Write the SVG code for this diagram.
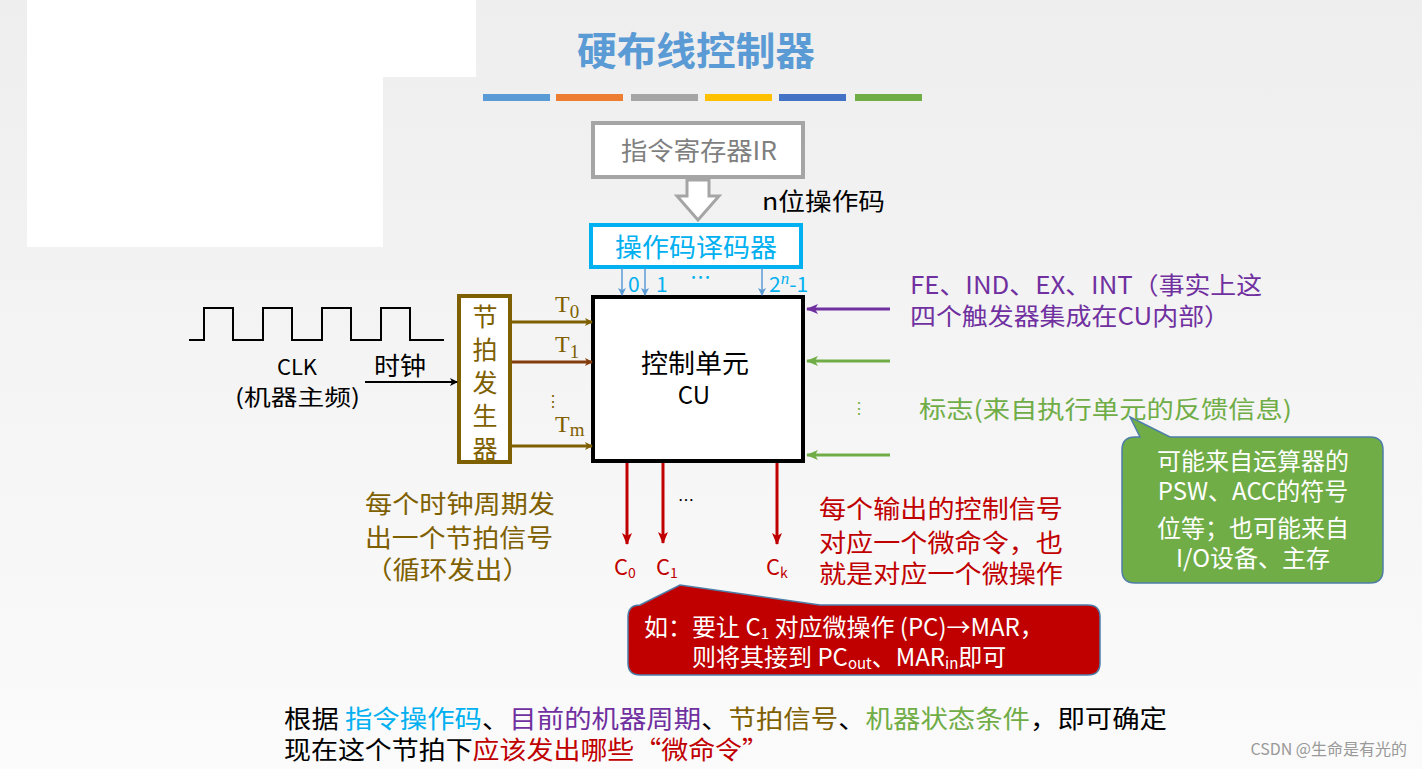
<svg xmlns="http://www.w3.org/2000/svg" width="1422" height="769" viewBox="0 0 1422 769">
<defs>
<linearGradient id="bg" x1="0" y1="0" x2="0" y2="1"><stop offset="0" stop-color="#eeeeee"/><stop offset="1" stop-color="#fbfbfb"/></linearGradient>
<marker id="ab" markerWidth="8" markerHeight="8" refX="7" refY="4" orient="auto" markerUnits="userSpaceOnUse"><path d="M0,0 L8,4 L0,8 L2,4 Z" fill="context-stroke"/></marker>
<marker id="ab2" markerWidth="12" markerHeight="10" refX="11" refY="5" orient="auto" markerUnits="userSpaceOnUse"><path d="M0,0 L12,5 L0,10 L3,5 Z" fill="context-stroke"/></marker>
</defs>
<style>
text{font-family:"Noto Sans CJK SC","Noto Sans",sans-serif;}
.s{font-family:"Liberation Serif","Noto Sans CJK SC",serif;}
.br{fill:#7f6000;font-size:25px;}
</style>
<rect width="1422" height="769" fill="url(#bg)"/>
<path d="M27,0 H476 V77 H383 V247 H27 Z" fill="#ffffff"/>
<text x="577" y="65" font-size="39" fill="#5b9bd5" font-weight="bold" textLength="238" lengthAdjust="spacingAndGlyphs">硬布线控制器</text>
<g>
<rect x="483" y="94" width="67" height="7" fill="#5b9bd5"/><rect x="556" y="94" width="67" height="7" fill="#ed7d31"/>
<rect x="631" y="94" width="67" height="7" fill="#a5a5a5"/><rect x="705" y="94" width="67" height="7" fill="#ffc000"/>
<rect x="779" y="94" width="67" height="7" fill="#4472c4"/><rect x="855" y="94" width="67" height="7" fill="#70ad47"/>
</g>
<g id="ir"><rect x="593" y="123" width="210" height="54" fill="#fff" stroke="#a5a5a5" stroke-width="4"/><text x="621" y="160" font-size="25" fill="#7f7f7f" textLength="156" lengthAdjust="spacingAndGlyphs">指令寄存器IR</text></g>
<path d="M687,180 V196 H677 L698,220 L719,196 H709 V180 Z" fill="#fff" stroke="#a5a5a5" stroke-width="3"/>
<text x="762" y="210" font-size="24" fill="#000" textLength="123" lengthAdjust="spacingAndGlyphs">n位操作码</text>
<g id="dec"><rect x="591" y="225" width="210" height="42" fill="#fff" stroke="#00b0f0" stroke-width="4"/><text x="615" y="257" font-size="26" fill="#00b0f0" textLength="162" lengthAdjust="spacingAndGlyphs">操作码译码器</text></g>
<g id="cu"><rect x="593" y="297" width="210" height="164" fill="#fff" stroke="#000" stroke-width="4"/>
<text x="641" y="373" font-size="26" textLength="108" lengthAdjust="spacingAndGlyphs">控制单元</text><text x="694" y="404" font-size="24" text-anchor="middle" font-family="Liberation Sans,sans-serif">CU</text></g>
<g id="gen"><rect x="459" y="296" width="51" height="166" fill="#fff" stroke="#7f6000" stroke-width="4"/>
<text x="485" y="326" class="br" text-anchor="middle">节</text><text x="485" y="359" class="br" text-anchor="middle">拍</text><text x="485" y="392" class="br" text-anchor="middle">发</text><text x="485" y="425" class="br" text-anchor="middle">生</text><text x="485" y="458" class="br" text-anchor="middle">器</text></g>
<path d="M189,340 H204 V308 H233 V340 H263 V308 H292 V340 H322 V308 H351 V340 H381 V308 H410 V340 H444" fill="none" stroke="#000" stroke-width="2"/>
<text x="297" y="375" font-size="22" text-anchor="middle">CLK</text>
<text x="235" y="405" font-size="22" textLength="125" lengthAdjust="spacingAndGlyphs">(机器主频)</text>
<text x="374" y="375" font-size="25" textLength="52" lengthAdjust="spacingAndGlyphs">时钟</text>
<g id="connectors" fill="none">
<line x1="365" y1="382" x2="457" y2="382" stroke="#000" stroke-width="2" marker-end="url(#ab)"/>
<line x1="512" y1="322" x2="592" y2="322" stroke="#7f6000" stroke-width="3" marker-end="url(#ab)"/>
<line x1="512" y1="362" x2="592" y2="362" stroke="#843c0c" stroke-width="3" marker-end="url(#ab)"/>
<line x1="512" y1="446" x2="592" y2="446" stroke="#7f6000" stroke-width="3" marker-end="url(#ab)"/>
<line x1="622" y1="268" x2="622" y2="295" stroke="#5b9bd5" stroke-width="1.5" marker-end="url(#ab)"/>
<line x1="645" y1="268" x2="645" y2="295" stroke="#5b9bd5" stroke-width="1.5" marker-end="url(#ab)"/>
<line x1="762" y1="268" x2="762" y2="295" stroke="#5b9bd5" stroke-width="1.5" marker-end="url(#ab)"/>
<line x1="627" y1="463" x2="627" y2="544" stroke="#c00000" stroke-width="3" marker-end="url(#ab2)"/>
<line x1="663" y1="463" x2="663" y2="543" stroke="#c00000" stroke-width="3" marker-end="url(#ab2)"/>
<line x1="777" y1="463" x2="777" y2="544" stroke="#c00000" stroke-width="3" marker-end="url(#ab2)"/>
<line x1="890" y1="309" x2="807" y2="309" stroke="#7030a0" stroke-width="3" marker-end="url(#ab2)"/>
<line x1="890" y1="361" x2="807" y2="361" stroke="#70ad47" stroke-width="3" marker-end="url(#ab2)"/>
<line x1="890" y1="455" x2="807" y2="455" stroke="#70ad47" stroke-width="3" marker-end="url(#ab2)"/>
</g>
<text x="555" y="312" class="s" font-size="24" fill="#7f6000">T<tspan dy="6" font-size="19">0</tspan></text>
<text x="555" y="352" class="s" font-size="24" fill="#7f6000">T<tspan dy="6" font-size="19">1</tspan></text>
<text x="545" y="407" font-size="16" fill="#7f6000">⋮</text>
<text x="555" y="432" class="s" font-size="24" fill="#7f6000">T<tspan dy="4" font-size="19">m</tspan></text>
<g font-size="21" fill="#00b0f0" font-family="Liberation Sans,sans-serif">
<text x="628" y="292">0</text><text x="656" y="292">1</text><text x="690" y="285">…</text>
<text x="769" y="292">2<tspan dy="-8" font-size="17" font-style="italic" font-family="Liberation Serif,serif">n</tspan><tspan dy="8">-1</tspan></text>
</g>
<text x="678" y="506" font-size="16">…</text>
<g font-family="Liberation Sans,sans-serif" fill="#c00000" font-size="22">
<text x="614" y="575">C<tspan font-size="14" dy="3">0</tspan></text>
<text x="656" y="575">C<tspan font-size="14" dy="3">1</tspan></text>
<text x="766" y="575">C<tspan font-size="14" dy="3">k</tspan></text>
</g>
<text x="910" y="294" font-size="24" fill="#7030a0" textLength="352" lengthAdjust="spacingAndGlyphs">FE、IND、EX、INT（事实上这</text>
<text x="910" y="325" font-size="24" fill="#7030a0" textLength="320" lengthAdjust="spacingAndGlyphs">四个触发器集成在CU内部）</text>
<text x="851" y="414" font-size="16" fill="#70ad47">⋮</text>
<text x="919" y="418" font-size="24" fill="#70ad47" textLength="373" lengthAdjust="spacingAndGlyphs">标志(来自执行单元的反馈信息)</text>
<g id="callout-green"><path d="M1140,437 L1130,417 L1170,437 H1370 Q1383,437 1383,450 V570 Q1383,583 1370,583 H1135 Q1122,583 1122,570 V450 Q1122,437 1135,437 Z" fill="#70ad47" stroke="#4e7ea8" stroke-width="1.5"/>
<g font-size="24" fill="#fff" text-anchor="middle"><text x="1253" y="470">可能来自运算器的</text><text x="1253" y="500">PSW、ACC的符号</text><text x="1253" y="537">位等；也可能来自</text><text x="1253" y="567">I/O设备、主存</text></g></g>
<g font-size="25" fill="#7f6000"><text x="365" y="513" textLength="190" lengthAdjust="spacingAndGlyphs">每个时钟周期发</text><text x="365" y="547" textLength="188" lengthAdjust="spacingAndGlyphs">出一个节拍信号</text><text x="365" y="579" textLength="165" lengthAdjust="spacingAndGlyphs">（循环发出）</text></g>
<g font-size="25" fill="#c00000"><text x="819" y="518" textLength="244" lengthAdjust="spacingAndGlyphs">每个输出的控制信号</text><text x="819" y="552" textLength="244" lengthAdjust="spacingAndGlyphs">对应一个微命令，也</text><text x="819" y="583" textLength="244" lengthAdjust="spacingAndGlyphs">就是对应一个微操作</text></g>
<g id="callout-red"><path d="M640,605 L680,585 L820,605 H1088 Q1100,605 1100,617 V663 Q1100,675 1088,675 H640 Q628,675 628,663 V617 Q628,605 640,605 Z" fill="#c00000" stroke="#4e7ea8" stroke-width="1.5"/>
<g font-size="24" fill="#fff"><text x="644" y="636">如：要让 C<tspan font-size="15" dy="3">1</tspan><tspan dy="-3"> 对应微操作 (PC)→MAR，</tspan></text><text x="692" y="666">则将其接到 PC<tspan font-size="15" dy="3">out</tspan><tspan dy="-3">、MAR</tspan><tspan font-size="15" dy="3">in</tspan><tspan dy="-3">即可</tspan></text></g></g>
<text x="284" y="728" font-size="25" textLength="883" lengthAdjust="spacingAndGlyphs">根据 <tspan fill="#00b0f0">指令操作码</tspan>、<tspan fill="#7030a0">目前的机器周期</tspan>、<tspan fill="#7f6000">节拍信号</tspan>、<tspan fill="#70ad47">机器状态条件</tspan>，即可确定</text>
<text x="284" y="759" font-size="25" textLength="485" lengthAdjust="spacingAndGlyphs">现在这个节拍下<tspan fill="#c00000">应该发出哪些“微命令”</tspan></text>
<text x="1407" y="755" font-size="16" fill="#999" text-anchor="end">CSDN @生命是有光的</text>
</svg>
